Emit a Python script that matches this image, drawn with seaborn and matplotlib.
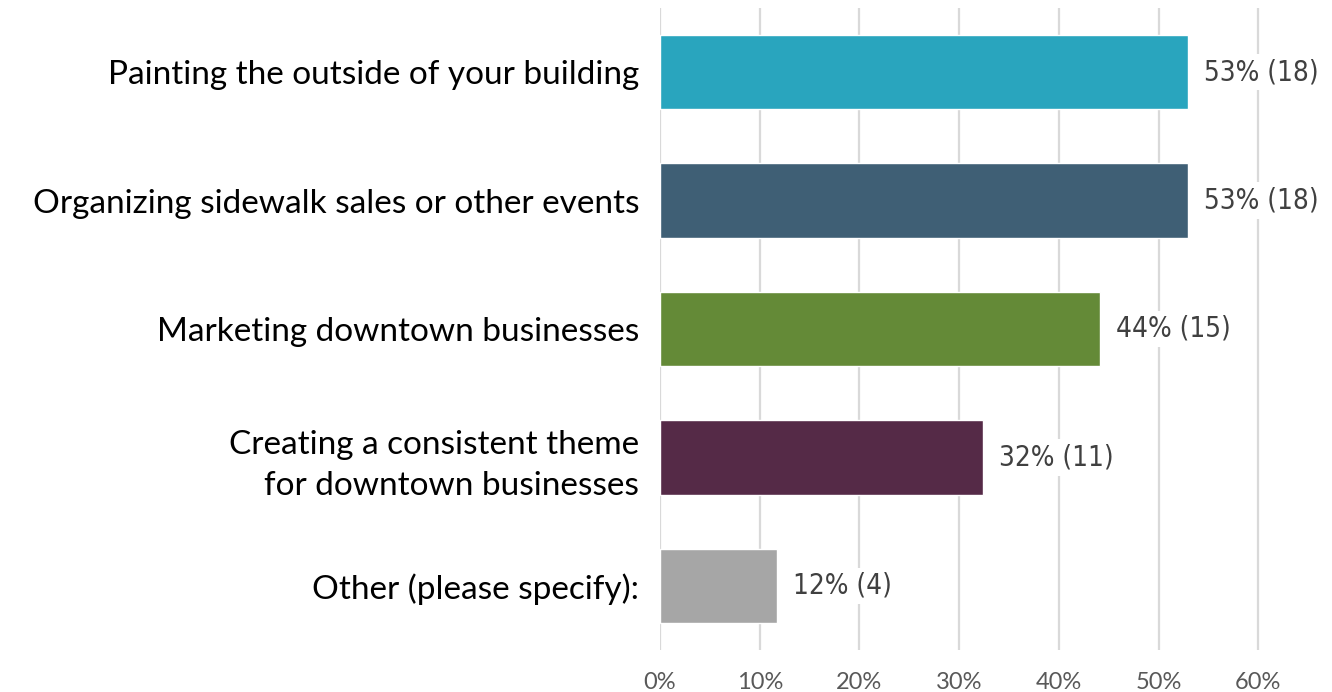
import matplotlib
matplotlib.use("Agg")
import matplotlib.pyplot as plt
import seaborn as sns
import pandas as pd

categories = [
    "Painting the outside of your building",
    "Organizing sidewalk sales or other events",
    "Marketing downtown businesses",
    "Creating a consistent theme\nfor downtown businesses",
    "Other (please specify):",
]
counts = [18, 18, 15, 11, 4]
total_respondents = 34
bar_colors = ["#29A5BE", "#3F5F75", "#648A37", "#552A47", "#A6A6A6"]
tick_values = [0, 10, 20, 30, 40, 50, 60]

percents = [100 * c / total_respondents for c in counts]
df = pd.DataFrame({"category": categories, "percent": percents})

sns.set_theme(style="white")
plt.rcParams["font.family"] = ["Lato", "DejaVu Sans"]

fig = plt.figure(figsize=(13.32, 6.92), dpi=100)
ax = fig.add_axes([660 / 1332, 42 / 692, 672 / 1332, 642 / 692])

sns.barplot(data=df, y="category", x="percent", hue="category",
            palette=bar_colors, orient="h", width=0.58, ax=ax,
            legend=False, saturation=1, zorder=3)

ax.set_xlim(0, 67.4)
ax.set_ylim(4.5, -0.5)
ax.set_xticks(tick_values)
ax.set_xticklabels([f"{t}%" for t in tick_values], fontsize=17, color="#595959")
ax.xaxis.grid(True, color="#D9D9D9", linewidth=1.6, zorder=0)
ax.set_axisbelow(True)
ax.tick_params(axis="x", length=0, pad=16)
ax.tick_params(axis="y", length=0, pad=15)
ax.set_yticks(range(len(categories)))
ax.set_yticklabels(categories, fontsize=24, color="#000000", ha="right",
                   linespacing=1.45)
for lbl in ax.get_yticklabels():
    lbl.set_multialignment("right")
ax.set_xlabel("")
ax.set_ylabel("")
for s in ax.spines.values():
    s.set_visible(False)

for i, (p, c) in enumerate(zip(percents, counts)):
    ax.text(p + 1.6, i, f"{round(p)}% ({c})", va="center", ha="left",
            fontsize=20, color="#404040",
            family="DejaVu Sans", fontstretch="condensed",
            bbox=dict(facecolor="white", edgecolor="none", pad=3),
            zorder=4)

fig.savefig("out.png", dpi=100, facecolor="white")
